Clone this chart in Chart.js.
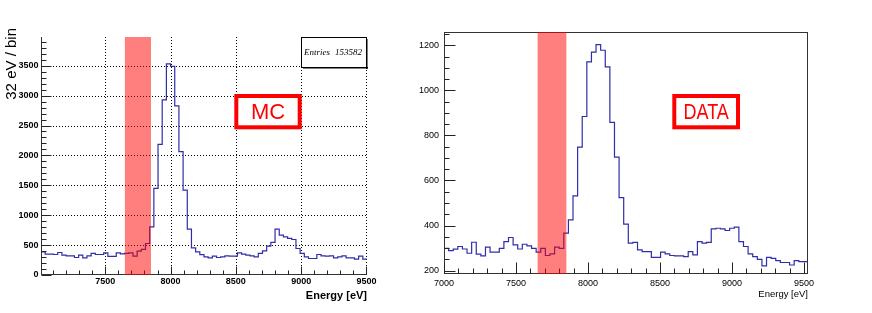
<!DOCTYPE html>
<html><head><meta charset="utf-8">
<script src="https://cdn.jsdelivr.net/npm/chart.js@4"></script>
<style>
html,body{margin:0;padding:0;background:#fff;width:872px;height:313px;overflow:hidden}
#c1{position:absolute;left:0;top:0}
#c2{position:absolute;left:400px;top:0}
</style></head><body>
<canvas id="c1" width="380" height="313"></canvas>
<canvas id="c2" width="472" height="313"></canvas>
<script>
// ---------- data ----------
const binWidth = 32;
const mcFirstBin = 7008;
const dataFirstBin = 7000;
const mcCounts = [388,349,349,343,376,332,321,321,293,332,287,321,360,343,343,371,310,310,371,354,
  360,371,315,399,427,527,806,1449,2185,2929,3532,3488,2828,2063,1421,767,455,388,
  342,303,287,315,293,303,320,315,315,371,349,332,320,303,360,404,483,544,768,667,639,611,594,443,
  360,303,276,276,343,320,315,320,287,303,320,287,287,265,315,265];
const dataCounts = [299,289,295,307,296,277,326,273,265,304,282,282,299,329,347,314,296,317,310,299,
  282,299,267,274,304,299,366,425,532,748,884,1126,1170,1203,1178,1104,858,704,524,
  406,322,325,292,284,284,259,259,282,274,267,265,265,262,284,270,329,322,325,385,388,385,378,388,393,
  329,307,274,262,250,221,259,254,244,236,236,225,244,240,240];
const mcXTicks = [7500,8000,8500,9000,9500];
const mcYTicks = [0,500,1000,1500,2000,2500,3000,3500];
const dataXTicks = [7000,7500,8000,8500,9000,9500];
const dataYTicks = [200,400,600,800,1000,1200];
const bandRange = [7650,7850];
const mcEntries = 153582;
const mcLabel = 'MC';
const dataLabel = 'DATA';
const xTitle = 'Energy [eV]';
const mcYTitle = '32 eV / bin';

function histPoints(first, counts){
  const pts = counts.map((v,i)=>({x:first+i*binWidth, y:v}));
  pts.push({x:first+counts.length*binWidth, y:counts[counts.length-1]});
  return pts;
}

function line(ctx,x1,y1,x2,y2){ctx.beginPath();ctx.moveTo(x1,y1);ctx.lineTo(x2,y2);ctx.stroke();}

function rootPlugin(cfg){
  return {
    id:'root_'+cfg.name,
    beforeDatasetsDraw(chart){
      const {ctx, chartArea:a, scales:{x,y}} = chart;
      if(!cfg.grid) return;
      ctx.save();
      ctx.strokeStyle='#000'; ctx.lineWidth=1; ctx.setLineDash([1,2]);
      cfg.xTicks.forEach(v=>{const p=Math.round(x.getPixelForValue(v))+0.5; line(ctx,p,a.top,p,a.bottom);});
      cfg.yTicks.forEach(v=>{ if(v<=y.min) return; const p=Math.round(y.getPixelForValue(v))+0.5; line(ctx,a.left,p,a.right,p);});
      ctx.restore();
    },
    afterDatasetsDraw(chart){
      const {ctx, chartArea:a, scales:{x,y}} = chart;
      ctx.save();
      // axes / frame
      ctx.strokeStyle='#333'; ctx.lineWidth=1;
      const L=Math.round(a.left)+0.5, B=Math.round(a.bottom)-0.5, T=Math.round(a.top)+0.5, R=Math.round(a.right)-0.5;
      line(ctx,L,a.top,L,a.bottom); line(ctx,a.left,B,a.right,B);
      if(cfg.frame){ line(ctx,a.left,T,a.right,T); line(ctx,R,a.top,R,a.bottom); }
      // inward ticks
      ctx.strokeStyle='#222';
      for(let v=Math.ceil(x.min/cfg.xMinor)*cfg.xMinor; v<=x.max; v+=cfg.xMinor){
        const p=Math.round(x.getPixelForValue(v))+0.5;
        const len = (v%cfg.xMajor===0)?cfg.xMajLen:cfg.xMinLen;
        line(ctx,p,B,p,B-len);
      }
      for(let v=Math.ceil(y.min/cfg.yMinor)*cfg.yMinor; v<=y.max; v+=cfg.yMinor){
        const p=Math.round(y.getPixelForValue(v))+0.5;
        const len = (v%cfg.yMajor===0)?cfg.yMajLen:cfg.yMinLen;
        line(ctx,L,p,L+len,p);
      }
      // band
      const x0=x.getPixelForValue(bandRange[0]), x1=x.getPixelForValue(bandRange[1]);
      ctx.fillStyle='rgba(255,0,0,0.5)';
      ctx.fillRect(x0,a.top,x1-x0,a.bottom-a.top);
      // label box
      const bx=cfg.box;
      ctx.strokeStyle='#ff0000'; ctx.lineWidth=4;
      ctx.strokeRect(bx.x,bx.y,bx.w,bx.h);
      ctx.fillStyle='#ff0000'; ctx.font=bx.font; ctx.textAlign='center'; ctx.textBaseline='middle';
      ctx.save(); ctx.translate(bx.x+bx.w/2, bx.y+bx.h/2+1); ctx.scale(bx.sx,1);
      ctx.fillText(bx.text,0,0); ctx.restore();
      // x title
      ctx.fillStyle='#000'; ctx.font=cfg.xTitleFont; ctx.textAlign='right'; ctx.textBaseline='middle';
      ctx.fillText(xTitle, a.right, cfg.xTitleY);
      if(cfg.stats){
        const s=cfg.stats;
        ctx.fillStyle='#fff'; ctx.fillRect(s.x,s.y,s.w,s.h);
        ctx.fillStyle='#000';
        ctx.fillRect(s.x+s.w, s.y+2, 1.5, s.h);
        ctx.fillRect(s.x+2, s.y+s.h, s.w, 1.5);
        ctx.strokeStyle='#000'; ctx.lineWidth=1;
        ctx.strokeRect(s.x+0.5,s.y+0.5,s.w,s.h);
        ctx.font="italic 9px 'Liberation Serif'"; ctx.textBaseline='middle';
        ctx.textAlign='left'; ctx.fillText('Entries', s.x+3, s.y+s.h/2+1);
        ctx.textAlign='right'; ctx.fillText(String(mcEntries), s.x+s.w-4, s.y+s.h/2+1);
      }
      if(cfg.yTitle){
        ctx.save(); ctx.translate(16,28); ctx.rotate(-Math.PI/2);
        ctx.fillStyle='#000'; ctx.font="15px 'Liberation Sans'"; ctx.textAlign='right'; ctx.textBaseline='alphabetic';
        ctx.fillText(cfg.yTitle,0,0); ctx.restore();
      }
      ctx.restore();
    }
  };
}

function makeChart(id, pts, xr, yr, xt, yt, opt, plug){
  return new Chart(document.getElementById(id), {
    type:'line',
    data:{datasets:[{data:pts, stepped:'before', borderColor:'#2e2ea8', borderWidth:1.2, pointRadius:0, fill:false, tension:0}]},
    options:{
      responsive:false, animation:false, devicePixelRatio:1,
      layout:{padding:opt.pad},
      plugins:{legend:{display:false}, tooltip:{enabled:false}},
      scales:{
        x:{type:'linear', min:xr[0], max:xr[1],
          afterBuildTicks:s=>{s.ticks=xt.map(v=>({value:v}));},
          afterFit:s=>{s.height=opt.xh;},
          grid:{display:false, drawTicks:false}, border:{display:false},
          ticks:{font:opt.tickFont, color:'#000', padding:opt.xpad, maxRotation:0, autoSkip:false, callback:v=>String(v)}},
        y:{type:'linear', min:yr[0], max:yr[1],
          afterBuildTicks:s=>{s.ticks=yt.map(v=>({value:v}));},
          afterFit:s=>{s.width=opt.yw;},
          grid:{display:false, drawTicks:false}, border:{display:false},
          ticks:{font:opt.tickFont, color:'#000', padding:opt.ypad, autoSkip:false, callback:v=>String(v)}}
      }
    },
    plugins:[plug]
  });
}

makeChart('c1', histPoints(mcFirstBin, mcCounts), [7008,9504], [0,3980], mcXTicks, mcYTicks,
  {pad:{top:37,right:13,left:0,bottom:0}, xh:38, yw:41, xpad:1, ypad:2.5,
   tickFont:{family:"'Liberation Sans'", size:9, weight:'bold'}},
  rootPlugin({name:'mc', grid:true, frame:false, xTicks:mcXTicks, yTicks:mcYTicks,
    xMinor:100, xMajor:500, xMajLen:8, xMinLen:4, yMinor:100, yMajor:500, yMajLen:10, yMinLen:5,
    box:{x:236.3,y:96,w:63.4,h:31.3,text:mcLabel,font:"22px 'Liberation Sans'",sx:1},
    xTitleFont:"bold 11px 'Liberation Sans'", xTitleY:296,
    stats:{x:301,y:37,w:65,h:30}, yTitle:mcYTitle}));

makeChart('c2', histPoints(dataFirstBin, dataCounts), [7000,9528], [185,1259], dataXTicks, dataYTicks,
  {pad:{top:32,right:64,left:0,bottom:0}, xh:39, yw:44, xpad:4, ypad:5,
   tickFont:{family:"'Liberation Sans'", size:9}},
  rootPlugin({name:'data', grid:false, frame:true, xTicks:dataXTicks, yTicks:dataYTicks,
    xMinor:100, xMajor:500, xMajLen:11, xMinLen:5, yMinor:50, yMajor:200, yMajLen:11, yMinLen:5,
    box:{x:274.3,y:96,w:63.7,h:31.3,text:dataLabel,font:"22px 'Liberation Sans'",sx:0.82},
    xTitleFont:"9.5px 'Liberation Sans'", xTitleY:294.5}));
</script>
</body></html>
